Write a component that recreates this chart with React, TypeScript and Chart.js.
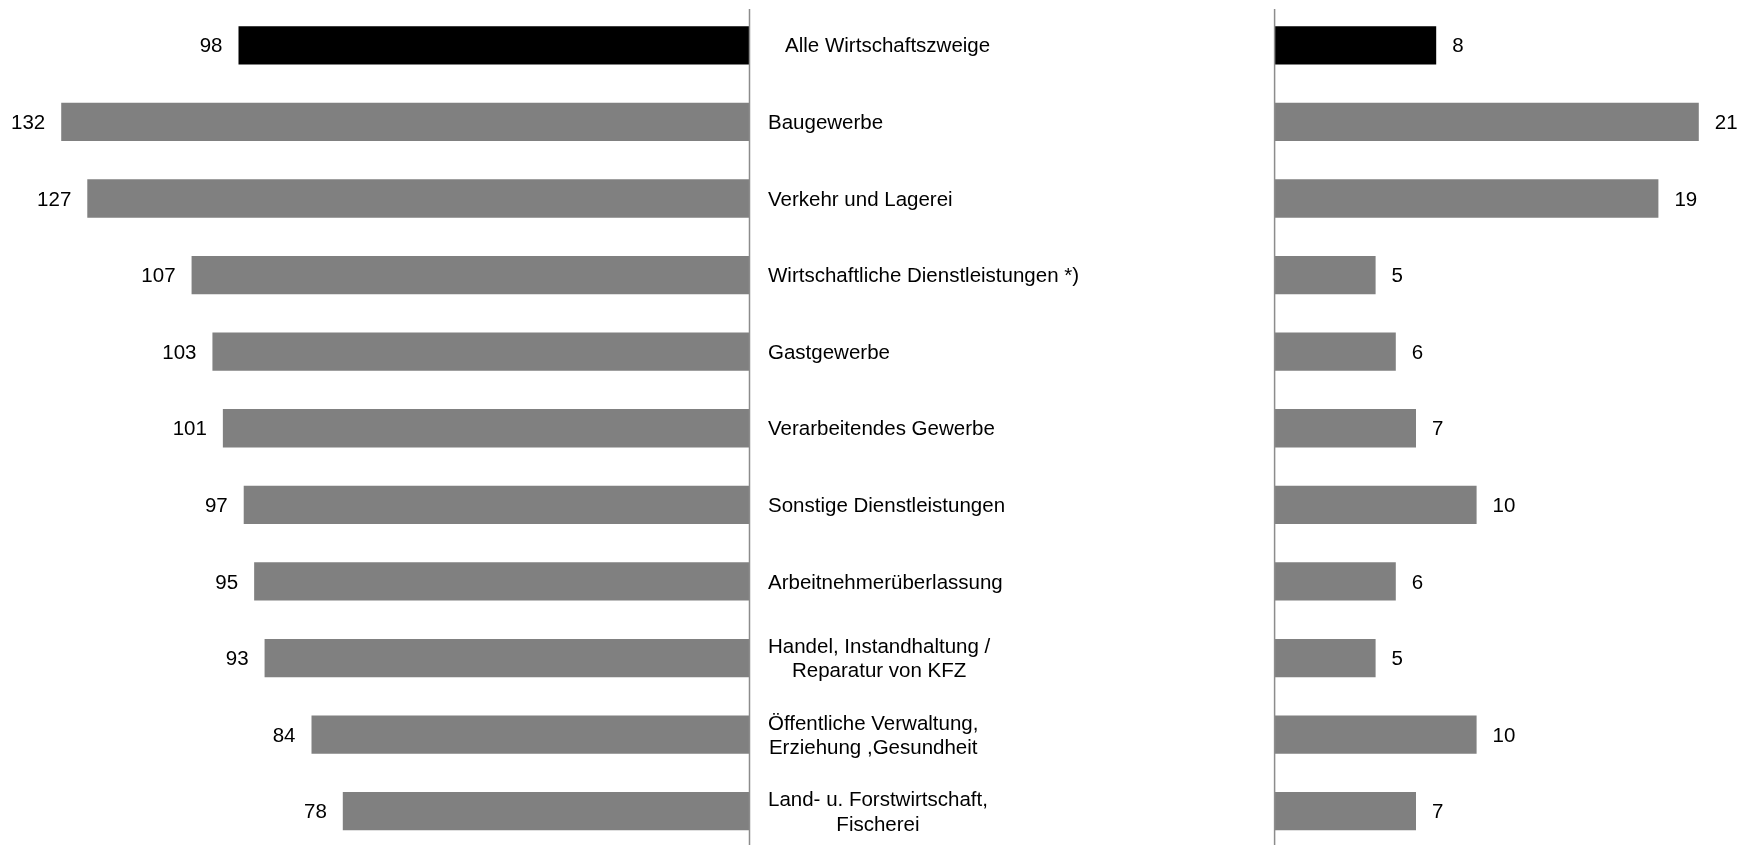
import { useEffect, useRef } from "react";
import { Chart, registerables } from "chart.js";

Chart.register(...registerables);

// Branch names (multi-line entries are drawn centred within their block)
const categories: string[][] = [
  ["   Alle Wirtschaftszweige"],
  ["Baugewerbe"],
  ["Verkehr und Lagerei"],
  ["Wirtschaftliche Dienstleistungen *)"],
  ["Gastgewerbe"],
  ["Verarbeitendes Gewerbe"],
  ["Sonstige Dienstleistungen"],
  ["Arbeitnehmerüberlassung"],
  ["Handel, Instandhaltung /", "Reparatur von KFZ"],
  ["Öffentliche Verwaltung,", "Erziehung ,Gesundheit"],
  ["Land- u. Forstwirtschaft,", "Fischerei"],
];

const leftValues = [98, 132, 127, 107, 103, 101, 97, 95, 93, 84, 78];
const rightValues = [8, 21, 19, 5, 6, 7, 10, 6, 5, 10, 7];

const leftAxisMax = 140;
const rightAxisMax = 22;

const TOTAL_COLOR = "#000000";
const BAR_COLOR = "#808080";
const AXIS_COLOR = "#8c8c8c";
const FONT = '20.5px "Liberation Sans", Arial, sans-serif';
const TEXT_DY = 1.5;

const barColors = categories.map((_, i) => (i === 0 ? TOTAL_COLOR : BAR_COLOR));

const CANVAS_H = 850;
const LEFT_W = 1265;
const RIGHT_X = 1265;
const RIGHT_W = 1741 - RIGHT_X;

function drawAxisLine(ctx: CanvasRenderingContext2D, x: number, height: number) {
  ctx.save();
  ctx.strokeStyle = AXIS_COLOR;
  ctx.lineWidth = 1.5;
  ctx.beginPath();
  ctx.moveTo(x, 9);
  ctx.lineTo(x, height);
  ctx.stroke();
  ctx.restore();
}

const leftDecor = {
  id: "leftDecor",
  afterDatasetsDraw(chart: any) {
    const { ctx, chartArea } = chart;
    drawAxisLine(ctx, chartArea.right, chart.height);
    const meta = chart.getDatasetMeta(0);
    ctx.save();
    ctx.font = FONT;
    ctx.fillStyle = "#000";
    ctx.textBaseline = "middle";
    meta.data.forEach((bar: any, i: number) => {
      ctx.textAlign = "right";
      ctx.fillText(String(leftValues[i]), bar.x - 16, bar.y + TEXT_DY);
      // category label block to the right of the axis
      const lines = categories[i];
      const widths = lines.map((l) => ctx.measureText(l).width);
      const blockW = Math.max(...widths);
      const left = chartArea.right + 18.5;
      const lh = 24.5;
      const y0 = bar.y + TEXT_DY - ((lines.length - 1) * lh) / 2;
      ctx.textAlign = "left";
      lines.forEach((l, k) => {
        ctx.fillText(l, left + (blockW - widths[k]) / 2, y0 + k * lh);
      });
    });
    ctx.restore();
  },
};

const rightDecor = {
  id: "rightDecor",
  afterDatasetsDraw(chart: any) {
    const { ctx, chartArea } = chart;
    drawAxisLine(ctx, chartArea.left, chart.height);
    const meta = chart.getDatasetMeta(0);
    ctx.save();
    ctx.font = FONT;
    ctx.fillStyle = "#000";
    ctx.textBaseline = "middle";
    ctx.textAlign = "left";
    meta.data.forEach((bar: any, i: number) => {
      ctx.fillText(String(rightValues[i]), bar.x + 16, bar.y + TEXT_DY);
    });
    ctx.restore();
  },
};

function baseOptions(max: number, reverse: boolean, padding: any) {
  return {
    indexAxis: "y" as const,
    responsive: false,
    maintainAspectRatio: false,
    animation: false as const,
    layout: { padding },
    plugins: { legend: { display: false }, tooltip: { enabled: false } },
    scales: {
      x: { type: "linear" as const, min: 0, max, reverse, display: false },
      y: { type: "category" as const, display: false },
    },
  };
}

export default function App() {
  const leftRef = useRef<HTMLCanvasElement>(null);
  const rightRef = useRef<HTMLCanvasElement>(null);

  useEffect(() => {
    const labels = categories.map((c) => c.join(" "));
    const left = new Chart(leftRef.current!, {
      type: "bar",
      data: {
        labels,
        datasets: [
          {
            data: leftValues,
            backgroundColor: barColors,
            borderWidth: 0,
            categoryPercentage: 1,
            barPercentage: 0.5,
          },
        ],
      },
      options: baseOptions(leftAxisMax, true, {
        left: 19.5,
        right: LEFT_W - 749.5,
        top: 7,
        bottom: 0.5,
      }) as any,
      plugins: [leftDecor],
    });
    const right = new Chart(rightRef.current!, {
      type: "bar",
      data: {
        labels,
        datasets: [
          {
            data: rightValues,
            backgroundColor: barColors,
            borderWidth: 0,
            categoryPercentage: 1,
            barPercentage: 0.5,
          },
        ],
      },
      options: baseOptions(rightAxisMax, false, {
        left: 1274.6 - RIGHT_X,
        right: RIGHT_W - (1274.6 - RIGHT_X) - rightAxisMax * 20.2,
        top: 7,
        bottom: 0.5,
      }) as any,
      plugins: [rightDecor],
    });
    return () => {
      left.destroy();
      right.destroy();
    };
  }, []);

  return (
    <div
      style={{
        position: "fixed",
        left: 0,
        top: 0,
        width: 1741,
        height: 845,
        overflow: "hidden",
        background: "#fff",
      }}
    >
      <canvas
        ref={leftRef}
        width={LEFT_W}
        height={CANVAS_H}
        style={{ position: "absolute", left: 0, top: 0, width: LEFT_W, height: CANVAS_H }}
      />
      <canvas
        ref={rightRef}
        width={RIGHT_W}
        height={CANVAS_H}
        style={{ position: "absolute", left: RIGHT_X, top: 0, width: RIGHT_W, height: CANVAS_H }}
      />
    </div>
  );
}
